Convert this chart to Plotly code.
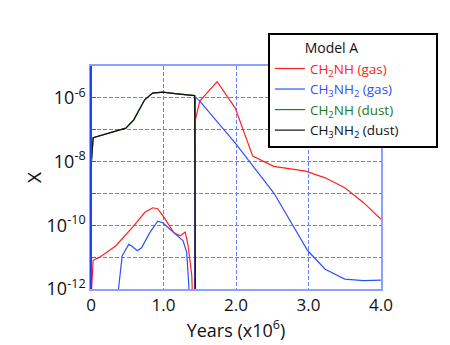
import numpy as np
import plotly.graph_objects as go

# x in units of 10^6 years, abundances as log10(X)
x_ch2nh_gas = [0, 0.01, 0.03, 0.12, 0.34, 0.59, 0.74, 0.85, 0.92, 1.01, 1.14, 1.23, 1.30, 1.34,
               1.39, 1.41, 1.43, 1.44, 1.50, 1.74, 1.99, 2.23, 2.52, 2.96, 3.23, 3.50, 3.76, 4.0]
logx_ch2nh_gas = [-13, -11.9, -11.1, -11.0, -10.65, -10.02, -9.6, -9.45, -9.48, -9.76, -10.23, -10.33, -10.21, -10.65,
                  -11.58, -13, -13, -6.69, -6.1, -5.49, -6.32, -7.83, -8.15, -8.30, -8.51, -8.82, -9.29, -9.81]

x_ch3nh2_gas = [0.33, 0.43, 0.52, 0.56, 0.64, 0.70, 0.81, 0.92, 0.99, 1.14, 1.27, 1.32, 1.36, 1.38,
                1.43, 1.44, 1.50, 1.99, 2.52, 2.99, 3.23, 3.50, 3.76, 4.0]
logx_ch3nh2_gas = [-13, -10.96, -10.6, -10.65, -10.8, -10.7, -10.23, -9.87, -9.92, -10.23, -10.49, -10.85, -11.9, -13,
                   -13, -5.97, -6.1, -7.42, -8.98, -10.8, -11.38, -11.69, -11.74, -11.72]

x_ch2nh_dust = [0, 0.005, 0.03, 0.12, 0.48, 0.59, 0.74, 0.85, 0.99, 1.19, 1.43, 1.44]
logx_ch2nh_dust = [-13, -8.03, -7.25, -7.19, -6.95, -6.69, -6.06, -5.85, -5.82, -5.875, -5.93, -13]

x_ch3nh2_dust = [0, 0.005, 0.03, 0.12, 0.48, 0.59, 0.74, 0.85, 0.99, 1.19, 1.43, 1.44]
logx_ch3nh2_dust = [-13, -8.03, -7.25, -7.19, -6.95, -6.69, -6.06, -5.85, -5.82, -5.875, -5.93, -13]

x_ticks = [0, 1, 2, 3, 4]
x_ticktext = ['0', '1.0', '2.0', '3.0', '4.0']
y_decades = [-12, -11, -10, -9, -8, -7, -6, -5]
y_ticktext = ['10<sup>-12</sup>', '', '10<sup>-10</sup>', '', '10<sup>-8</sup>', '', '10<sup>-6</sup>', '']

pad = '\u00a0' * 9
series = [
    ('CH<sub>2</sub>NH (dust)', x_ch2nh_dust, logx_ch2nh_dust, '#1e7a1e'),
    ('CH<sub>2</sub>NH (gas)', x_ch2nh_gas, logx_ch2nh_gas, '#ff2020'),
    ('CH<sub>3</sub>NH<sub>2</sub> (gas)', x_ch3nh2_gas, logx_ch3nh2_gas, '#3050ff'),
    ('CH<sub>3</sub>NH<sub>2</sub> (dust)' + pad, x_ch3nh2_dust, logx_ch3nh2_dust, '#111111'),
]
legend_rank = {'#ff2020': 1, '#3050ff': 2, '#1e7a1e': 3, '#111111': 4}

fig = go.Figure()
for name, xs, ys, color in series:
    fig.add_trace(go.Scatter(
        x=xs, y=10 ** np.array(ys),
        mode='lines',
        name=f'<span style="color:{color}">{name}</span>',
        line=dict(color=color, width=1.2),
        legendrank=legend_rank[color],
    ))

grid_color = '#6a7cff'
fig.update_xaxes(
    range=[0, 4], tickvals=x_ticks, ticktext=x_ticktext,
    showgrid=True, gridcolor=grid_color, griddash='4px,2px', gridwidth=1,
    showline=True, linecolor='#8ea0ff', linewidth=1.5, mirror=True,
    ticks='', zeroline=False, automargin=False,
    title=dict(text='Years (x10<sup>6</sup>)', font=dict(size=18), standoff=4),
    tickfont=dict(size=17),
)
fig.update_yaxes(
    type='log', range=[-12, -5],
    tickvals=[10.0 ** d for d in y_decades], ticktext=y_ticktext,
    showgrid=True, gridcolor=grid_color, griddash='4px,2px', gridwidth=1,
    showline=True, linecolor='#8ea0ff', linewidth=1.5, mirror=True,
    ticks='inside', ticklen=5, tickcolor='#3050ff', automargin=False,
    zeroline=False,
    title=dict(text='X', font=dict(size=19), standoff=0),
    tickfont=dict(size=18),
)

# stronger left spine
fig.add_shape(type='line', xref='paper', yref='paper', x0=0, x1=0, y0=0, y1=1,
              line=dict(color='#2040ff', width=2))

# page body keeps an 8px margin, so the figure is drawn 8px smaller
fig.update_layout(
    width=442, height=337,
    margin=dict(l=83, r=59, t=58, b=56),
    paper_bgcolor='white', plot_bgcolor='white',
    font=dict(family='Open Sans, DejaVu Sans, sans-serif', color='#111111'),
    showlegend=True,
    legend=dict(
        x=0.61, y=1.148, xanchor='left', yanchor='top',
        bgcolor='white', bordercolor='black', borderwidth=2,
        title=dict(text='         Model A', font=dict(size=14)),
        font=dict(size=13.5),
        tracegroupgap=0,
    ),
)

fig.write_html('out.html')
